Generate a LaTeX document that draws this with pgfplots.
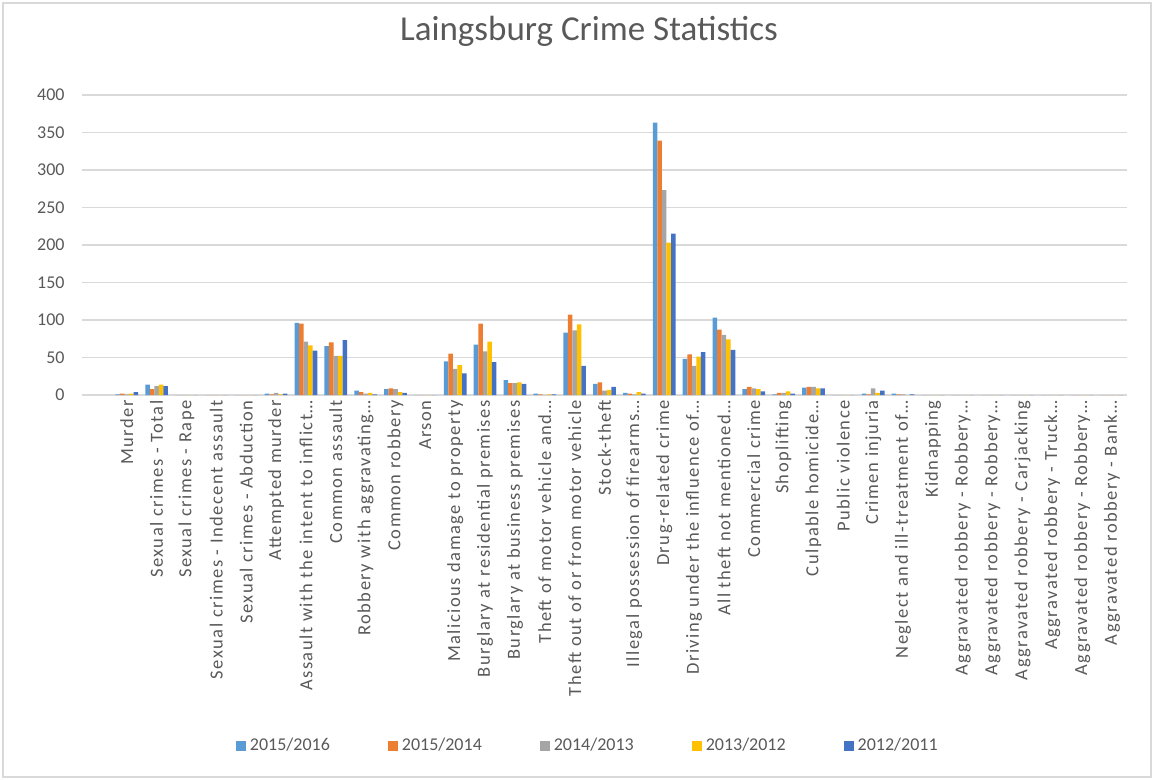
\documentclass[border=0pt]{standalone}
\usepackage{pgfplots}
\pgfplotsset{compat=1.18}
\usepackage{pgfplotstable}
\usepackage{fontspec}
\setmainfont{Carlito}
\newfontfamily\labfont[LetterSpace=8]{Carlito}
\definecolor{c1}{HTML}{5B9BD5}
\definecolor{c2}{HTML}{ED7D31}
\definecolor{c3}{HTML}{A5A5A5}
\definecolor{c4}{HTML}{FFC000}
\definecolor{c5}{HTML}{4472C4}
\definecolor{txt}{HTML}{595959}
\definecolor{grd}{HTML}{D9D9D9}
\pgfplotstableread{
x a b c d e
0 1 2 1 2 4
1 14 8 12 14 12
2 0 0 0 0 0
3 0 0 0 0 0
4 0 0 0 0 0
5 2 1 3 1 2
6 96 95 71 66 59
7 65 70 52 52 73
8 6 4 2 3 1
9 8 9 8 4 3
10 0 0 0 0 0
11 45 55 35 40 29
12 67 95 58 71 44
13 20 16 16 17 15
14 2 1 0 1 1
15 83 107 86 94 39
16 15 17 6 7 11
17 3 2 1 4 2
18 363 339 273 203 215
19 48 54 39 51 57
20 103 87 80 74 60
21 8 11 9 8 5
22 1 3 3 5 2
23 10 11 11 9 9
24 0 0 0 0 0
25 2 1 9 3 6
26 2 1 1 0 1
27 0 0 0 0 0
28 0 0 0 0 0
29 0 0 0 0 0
30 0 0 0 0 0
31 0 0 0 0 0
32 0 0 0 0 0
33 0 0 0 0 0
}\data
\begin{document}
\begin{tikzpicture}
\useasboundingbox (-41pt,-192.5pt) rectangle (536pt,197.5pt);
\draw[grd, line width=0.75pt] (-39.5pt,-191pt) rectangle (534.5pt,196pt);
\begin{axis}[
  at={(0,0)}, anchor=south west,
  width=522.5pt, height=150pt, scale only axis,
  ybar=0pt, bar width=2.27pt,
  xmin=-1.5, xmax=33.5, ymin=0, ymax=400,
  ytick={0,50,...,400},
  xtick={0,...,33},
  xticklabels={Murder,Sexual crimes - Total,Sexual crimes - Rape,Sexual crimes - Indecent assault,Sexual crimes - Abduction,Attempted murder,{Assault with the intent to inflict\ldots},Common assault,{Robbery with aggravating\ldots},Common robbery,Arson,Malicious damage to property,Burglary at residential premises,Burglary at business premises,{Theft of motor vehicle and\ldots},Theft out of or from motor vehicle,Stock-theft,{Illegal possession of firearms\ldots},Drug-related crime,{Driving under the influence of\ldots},{All theft not mentioned\ldots},Commercial crime,Shoplifting,{Culpable homicide\ldots},Public violence,Crimen injuria,{Neglect and ill-treatment of\ldots},Kidnapping,{Aggravated robbery - Robbery\ldots},{Aggravated robbery - Robbery\ldots},Aggravated robbery - Carjacking,{Aggravated robbery - Truck\ldots},{Aggravated robbery - Robbery\ldots},{Aggravated robbery - Bank\ldots}},
  ymajorgrids, grid style={grd, line width=0.6pt},
  axis line style={draw=none},
  major tick length=0pt,
  tick label style={font=\fontsize{9}{10}\selectfont, text=txt},
  /pgf/number format/assume math mode=true,
  xticklabel style={rotate=90, anchor=east, inner sep=0pt, font=\labfont\fontsize{9.25}{10}\selectfont},
  xticklabel shift=2.5pt,
  yticklabel style={anchor=east, inner sep=0pt},
  yticklabel shift=8.5pt,
  legend columns=5,
  legend style={draw=none, fill=none, at={(0.485,-1.17)}, anchor=center,
    font=\fontsize{9}{10}\selectfont, text=txt,
    /tikz/every even column/.append style={column sep=27pt}},
  legend image code/.code={\fill[#1] (0pt,-2.5pt) rectangle (5pt,2.5pt);},
]
\addplot[fill=c1, draw=none] table[x=x,y=a]{\data};
\addplot[fill=c2, draw=none] table[x=x,y=b]{\data};
\addplot[fill=c3, draw=none] table[x=x,y=c]{\data};
\addplot[fill=c4, draw=none] table[x=x,y=d]{\data};
\addplot[fill=c5, draw=none] table[x=x,y=e]{\data};
\legend{2015/2016,2015/2014,2014/2013,2013/2012,2012/2011}
\end{axis}
\node[font=\fontsize{17.5}{20}\selectfont, text=txt] at (253.5pt,182pt) {Laingsburg Crime Statistics};
\end{tikzpicture}
\end{document}
